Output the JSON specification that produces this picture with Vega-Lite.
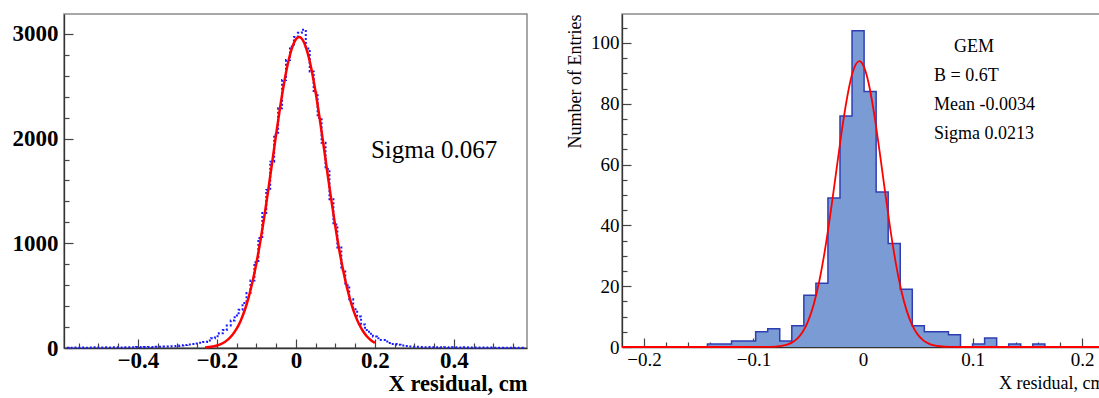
{
  "$schema": "https://vega.github.io/schema/vega-lite/v6.json",
  "padding": {"left": 11, "top": 13, "right": 0, "bottom": 0},
  "bounds": "flush",
  "spacing": 95,
  "config": {
    "font": "Liberation Serif",
    "view": {"stroke": "#8a8a8a", "strokeWidth": 1.5},
    "axis": {"grid": false, "domainColor": "#333", "tickColor": "#444", "labelColor": "#000", "titleColor": "#000", "domainWidth": 1.3, "tickWidth": 1.2, "labelFont": "Liberation Serif", "titleFont": "Liberation Serif"}
  },
  "datasets": {
    "leftHist": [
      {"x": -0.58, "n": 3}, {"x": -0.57, "n": 2}, {"x": -0.56, "n": 4}, {"x": -0.55, "n": 3}, {"x": -0.54, "n": 5}, {"x": -0.53, "n": 3}, {"x": -0.52, "n": 4}, {"x": -0.51, "n": 6}, {"x": -0.5, "n": 4}, {"x": -0.49, "n": 5},
      {"x": -0.48, "n": 6}, {"x": -0.47, "n": 5}, {"x": -0.46, "n": 7}, {"x": -0.45, "n": 6}, {"x": -0.44, "n": 5}, {"x": -0.43, "n": 8}, {"x": -0.42, "n": 7}, {"x": -0.41, "n": 6}, {"x": -0.4, "n": 9}, {"x": -0.39, "n": 8},
      {"x": -0.38, "n": 9}, {"x": -0.37, "n": 10}, {"x": -0.36, "n": 9}, {"x": -0.35, "n": 11}, {"x": -0.34, "n": 12}, {"x": -0.33, "n": 14}, {"x": -0.32, "n": 15}, {"x": -0.31, "n": 17}, {"x": -0.3, "n": 20}, {"x": -0.29, "n": 24},
      {"x": -0.28, "n": 28}, {"x": -0.27, "n": 34}, {"x": -0.26, "n": 38}, {"x": -0.25, "n": 44}, {"x": -0.24, "n": 50}, {"x": -0.23, "n": 58}, {"x": -0.22, "n": 72}, {"x": -0.21, "n": 92}, {"x": -0.2, "n": 112}, {"x": -0.19, "n": 140},
      {"x": -0.18, "n": 172}, {"x": -0.17, "n": 215}, {"x": -0.16, "n": 262}, {"x": -0.15, "n": 310}, {"x": -0.14, "n": 365}, {"x": -0.13, "n": 430}, {"x": -0.12, "n": 525}, {"x": -0.11, "n": 645}, {"x": -0.1, "n": 820}, {"x": -0.09, "n": 1050},
      {"x": -0.08, "n": 1290}, {"x": -0.07, "n": 1510}, {"x": -0.06, "n": 1780}, {"x": -0.05, "n": 2040}, {"x": -0.04, "n": 2290}, {"x": -0.03, "n": 2560}, {"x": -0.02, "n": 2750}, {"x": -0.01, "n": 2880}, {"x": 0.0, "n": 2970}, {"x": 0.01, "n": 3010},
      {"x": 0.02, "n": 3040}, {"x": 0.03, "n": 2860}, {"x": 0.04, "n": 2640}, {"x": 0.05, "n": 2440}, {"x": 0.06, "n": 2200}, {"x": 0.07, "n": 1960}, {"x": 0.08, "n": 1710}, {"x": 0.09, "n": 1420}, {"x": 0.1, "n": 1180}, {"x": 0.11, "n": 960},
      {"x": 0.12, "n": 745}, {"x": 0.13, "n": 600}, {"x": 0.14, "n": 465}, {"x": 0.15, "n": 370}, {"x": 0.16, "n": 300}, {"x": 0.17, "n": 225}, {"x": 0.18, "n": 172}, {"x": 0.19, "n": 135}, {"x": 0.2, "n": 110}, {"x": 0.21, "n": 92},
      {"x": 0.22, "n": 76}, {"x": 0.23, "n": 62}, {"x": 0.24, "n": 48}, {"x": 0.25, "n": 38}, {"x": 0.26, "n": 30}, {"x": 0.27, "n": 24}, {"x": 0.28, "n": 19}, {"x": 0.29, "n": 15}, {"x": 0.3, "n": 13}, {"x": 0.31, "n": 11},
      {"x": 0.32, "n": 10}, {"x": 0.33, "n": 8}, {"x": 0.34, "n": 9}, {"x": 0.35, "n": 7}, {"x": 0.36, "n": 8}, {"x": 0.37, "n": 6}, {"x": 0.38, "n": 7}, {"x": 0.39, "n": 5}, {"x": 0.4, "n": 6}, {"x": 0.41, "n": 5},
      {"x": 0.42, "n": 4}, {"x": 0.43, "n": 6}, {"x": 0.44, "n": 4}, {"x": 0.45, "n": 5}, {"x": 0.46, "n": 3}, {"x": 0.47, "n": 4}, {"x": 0.48, "n": 3}, {"x": 0.49, "n": 4}, {"x": 0.5, "n": 3}, {"x": 0.51, "n": 2},
      {"x": 0.52, "n": 3}, {"x": 0.53, "n": 2}, {"x": 0.54, "n": 3}, {"x": 0.55, "n": 2}, {"x": 0.56, "n": 2}, {"x": 0.57, "n": 3}, {"x": 0.58, "n": 2}
    ],
    "leftFit": [
      {"x": -0.23, "f": 5}, {"x": -0.22, "f": 9}, {"x": -0.21, "f": 15}, {"x": -0.2, "f": 24}, {"x": -0.19, "f": 38}, {"x": -0.18, "f": 58}, {"x": -0.17, "f": 87}, {"x": -0.16, "f": 128}, {"x": -0.15, "f": 184}, {"x": -0.14, "f": 259},
      {"x": -0.13, "f": 356}, {"x": -0.12, "f": 479}, {"x": -0.11, "f": 630}, {"x": -0.1, "f": 810}, {"x": -0.09, "f": 1019}, {"x": -0.08, "f": 1254}, {"x": -0.07, "f": 1508}, {"x": -0.06, "f": 1775}, {"x": -0.05, "f": 2042}, {"x": -0.04, "f": 2298},
      {"x": -0.03, "f": 2529}, {"x": -0.02, "f": 2722}, {"x": -0.01, "f": 2865}, {"x": 0.0, "f": 2949}, {"x": 0.008, "f": 2970}, {"x": 0.02, "f": 2923}, {"x": 0.03, "f": 2814}, {"x": 0.04, "f": 2650}, {"x": 0.05, "f": 2440}, {"x": 0.06, "f": 2198},
      {"x": 0.07, "f": 1936}, {"x": 0.08, "f": 1667}, {"x": 0.09, "f": 1405}, {"x": 0.1, "f": 1157}, {"x": 0.11, "f": 932}, {"x": 0.12, "f": 735}, {"x": 0.13, "f": 566}, {"x": 0.14, "f": 427}, {"x": 0.15, "f": 314}, {"x": 0.16, "f": 227},
      {"x": 0.17, "f": 160}, {"x": 0.18, "f": 110}, {"x": 0.19, "f": 74}, {"x": 0.2, "f": 49}
    ],
    "leftText": [{"x": 0.19, "y": 1891, "label": "Sigma 0.067"}],
    "rightHist": [
      {"x": -0.22, "n": 0}, {"x": -0.153, "n": 0}, {"x": -0.142, "n": 1}, {"x": -0.131, "n": 1}, {"x": -0.12, "n": 2}, {"x": -0.109, "n": 2}, {"x": -0.098, "n": 5}, {"x": -0.087, "n": 6}, {"x": -0.076, "n": 2}, {"x": -0.065, "n": 7},
      {"x": -0.054, "n": 17}, {"x": -0.043, "n": 21}, {"x": -0.032, "n": 49}, {"x": -0.021, "n": 76}, {"x": -0.01, "n": 104}, {"x": 0.001, "n": 84}, {"x": 0.012, "n": 51}, {"x": 0.023, "n": 34}, {"x": 0.034, "n": 19}, {"x": 0.045, "n": 7},
      {"x": 0.056, "n": 5}, {"x": 0.067, "n": 5}, {"x": 0.078, "n": 4}, {"x": 0.089, "n": 0}, {"x": 0.1, "n": 1}, {"x": 0.111, "n": 3}, {"x": 0.122, "n": 0}, {"x": 0.133, "n": 1}, {"x": 0.144, "n": 0}, {"x": 0.155, "n": 1},
      {"x": 0.166, "n": 0}, {"x": 0.22, "n": 0}
    ],
    "rightFit": [
      {"x": -0.22, "f": 0}, {"x": -0.12, "f": 0}, {"x": -0.1, "f": 0.01}, {"x": -0.09, "f": 0.03}, {"x": -0.08, "f": 0.15}, {"x": -0.07, "f": 0.71}, {"x": -0.065, "f": 1.44}, {"x": -0.06, "f": 2.75}, {"x": -0.055, "f": 5.0}, {"x": -0.05, "f": 8.6},
      {"x": -0.045, "f": 14.0}, {"x": -0.04, "f": 21.5}, {"x": -0.035, "f": 31.3}, {"x": -0.03, "f": 43.1}, {"x": -0.025, "f": 56.2}, {"x": -0.02, "f": 69.4}, {"x": -0.015, "f": 81.0}, {"x": -0.01, "f": 89.6}, {"x": -0.0034, "f": 94.0}, {"x": 0.0, "f": 92.8},
      {"x": 0.005, "f": 87.0}, {"x": 0.01, "f": 77.1}, {"x": 0.015, "f": 64.7}, {"x": 0.02, "f": 51.4}, {"x": 0.025, "f": 38.6}, {"x": 0.03, "f": 27.5}, {"x": 0.035, "f": 18.5}, {"x": 0.04, "f": 11.8}, {"x": 0.045, "f": 7.1}, {"x": 0.05, "f": 4.06},
      {"x": 0.055, "f": 2.19}, {"x": 0.06, "f": 1.12}, {"x": 0.065, "f": 0.54}, {"x": 0.07, "f": 0.25}, {"x": 0.08, "f": 0.04}, {"x": 0.09, "f": 0.0}, {"x": 0.12, "f": 0}, {"x": 0.22, "f": 0}
    ],
    "rightText": [
      {"x": 0.083, "y": 98.6, "label": "GEM"},
      {"x": 0.0648, "y": 89.1, "label": "B = 0.6T"},
      {"x": 0.0648, "y": 79.6, "label": "Mean -0.0034"},
      {"x": 0.0648, "y": 70.0, "label": "Sigma 0.0213"}
    ]
  },
  "hconcat": [
    {
      "width": 463,
      "height": 334,
      "resolve": {"axis": {"x": "independent", "y": "independent"}},
      "layer": [
        {
          "data": {"name": "leftHist"},
          "mark": {"type": "line", "interpolate": "step", "color": "#1a1aff", "strokeWidth": 2, "strokeDash": [2, 2]},
          "encoding": {
            "x": {"field": "x", "type": "quantitative", "scale": {"domain": [-0.587, 0.585], "nice": false, "zero": false},
              "axis": {"orient": "bottom", "values": [-0.4, -0.2, 0, 0.2, 0.4], "tickSize": -9, "labelPadding": 10, "labelFontSize": 23, "labelFontWeight": "bold",
                "labelExpr": "datum.value == 0 ? '0' : format(datum.value, '.1f')", "title": "X residual, cm", "titleFontSize": 22.5, "titleFontWeight": "bold", "titleAnchor": "end", "titlePadding": 0}},
            "y": {"field": "n", "type": "quantitative", "scale": {"domain": [0, 3190], "nice": false},
              "axis": {"orient": "left", "values": [0, 1000, 2000, 3000], "format": "d", "tickSize": -9, "labelPadding": 15, "labelFontSize": 23, "labelFontWeight": "bold", "title": null}}
          }
        },
        {
          "data": {"name": "leftFit"},
          "mark": {"type": "line", "interpolate": "monotone", "color": "#ff0000", "strokeWidth": 2.5},
          "encoding": {
            "x": {"field": "x", "type": "quantitative",
              "axis": {"orient": "bottom", "values": [-0.55, -0.5, -0.45, -0.35, -0.3, -0.25, -0.15, -0.1, -0.05, 0.05, 0.1, 0.15, 0.25, 0.3, 0.35, 0.45, 0.5, 0.55], "tickSize": -5, "labels": false, "domain": false, "title": null}},
            "y": {"field": "f", "type": "quantitative",
              "axis": {"orient": "left", "values": [200, 400, 600, 800, 1200, 1400, 1600, 1800, 2200, 2400, 2600, 2800], "tickSize": -5, "labels": false, "domain": false, "title": null}}
          }
        },
        {
          "data": {"name": "leftText"},
          "mark": {"type": "text", "align": "left", "baseline": "middle", "fontSize": 25, "font": "Liberation Serif"},
          "encoding": {
            "x": {"field": "x", "type": "quantitative", "axis": null},
            "y": {"field": "y", "type": "quantitative", "axis": null},
            "text": {"field": "label"}
          }
        }
      ]
    },
    {
      "width": 482,
      "height": 333,
      "resolve": {"axis": {"x": "independent", "y": "independent"}},
      "layer": [
        {
          "data": {"name": "rightHist"},
          "mark": {"type": "area", "interpolate": "step-after", "color": "#7b9bd4", "opacity": 1},
          "encoding": {
            "x": {"field": "x", "type": "quantitative", "scale": {"domain": [-0.22, 0.22], "nice": false, "zero": false},
              "axis": {"orient": "bottom", "values": [-0.2, -0.1, 0, 0.1, 0.2], "tickSize": -9, "labelPadding": 12, "labelFontSize": 19,
                "labelExpr": "datum.value == 0 ? '0' : format(datum.value, '.1f')", "title": "X residual, cm", "titleFontSize": 18, "titleFontWeight": "normal", "titleAnchor": "end", "titlePadding": 5}},
            "y": {"field": "n", "type": "quantitative", "scale": {"domain": [0, 109.5], "nice": false},
              "axis": {"orient": "left", "values": [0, 20, 40, 60, 80, 100], "tickSize": -9, "labelPadding": 12, "labelFontSize": 19,
                "title": "Number of Entries", "titleFontSize": 18, "titleFontWeight": "normal", "titleAnchor": "end", "titlePadding": 6}}
          }
        },
        {
          "data": {"name": "rightHist"},
          "mark": {"type": "line", "interpolate": "step-after", "color": "#2f3fb3", "strokeWidth": 1.5},
          "encoding": {
            "x": {"field": "x", "type": "quantitative",
              "axis": {"orient": "bottom", "values": [-0.18, -0.16, -0.14, -0.12, -0.08, -0.06, -0.04, -0.02, 0.02, 0.04, 0.06, 0.08, 0.12, 0.14, 0.16, 0.18], "tickSize": -5, "labels": false, "domain": false, "title": null}},
            "y": {"field": "n", "type": "quantitative",
              "axis": {"orient": "left", "values": [5, 10, 15, 25, 30, 35, 45, 50, 55, 65, 70, 75, 85, 90, 95, 105], "tickSize": -5, "labels": false, "domain": false, "title": null}}
          }
        },
        {
          "data": {"name": "rightFit"},
          "mark": {"type": "line", "interpolate": "monotone", "color": "#ff0000", "strokeWidth": 1.8},
          "encoding": {
            "x": {"field": "x", "type": "quantitative", "axis": null},
            "y": {"field": "f", "type": "quantitative", "axis": null}
          }
        },
        {
          "data": {"name": "rightText"},
          "mark": {"type": "text", "align": "left", "baseline": "middle", "fontSize": 18, "font": "Liberation Serif"},
          "encoding": {
            "x": {"field": "x", "type": "quantitative", "axis": null},
            "y": {"field": "y", "type": "quantitative", "axis": null},
            "text": {"field": "label"}
          }
        }
      ]
    }
  ]
}
